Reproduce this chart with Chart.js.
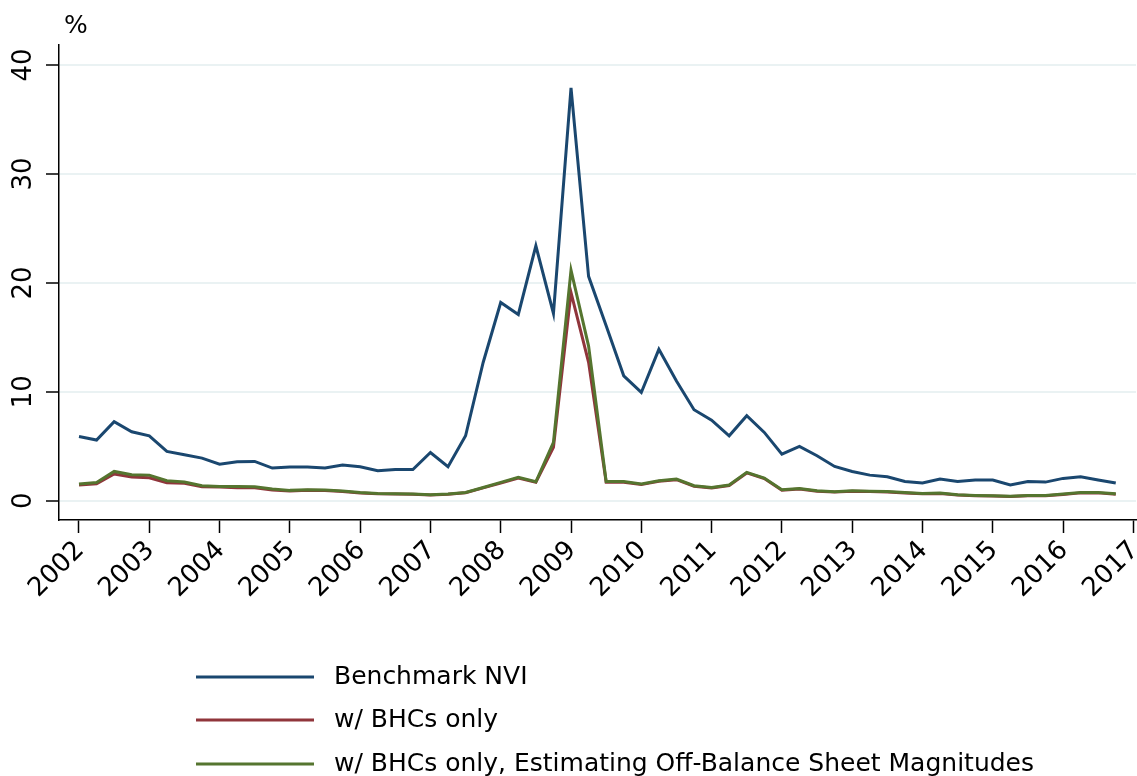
<!DOCTYPE html>
<html>
<head>
<meta charset="utf-8">
<script src="https://cdn.jsdelivr.net/npm/chart.js@4"></script>
<style>
  body { margin: 0; background: #fff; }
  #wrap { position: relative; width: 1137px; height: 776px; }
</style>
</head>
<body>
<div id="wrap"><canvas id="myChart" width="1137" height="776"></canvas></div>
<script>
// quarterly data, 2002q1 .. 2016q4
const years = [2002, 2003, 2004, 2005, 2006, 2007, 2008, 2009, 2010, 2011, 2012, 2013, 2014, 2015, 2016];
const xTicks = [2002, 2003, 2004, 2005, 2006, 2007, 2008, 2009, 2010, 2011, 2012, 2013, 2014, 2015, 2016, 2017];
const yTicks = [0, 10, 20, 30, 40];

const seriesNames = [
  "Benchmark NVI",
  "w/ BHCs only",
  "w/ BHCs only, Estimating Off-Balance Sheet Magnitudes",
];
const seriesColors = ["#1a476f", "#90353b", "#55752f"];

const benchmark = [
  5.9, 5.57, 7.25, 6.33,
  5.96, 4.53, 4.22, 3.91,
  3.36, 3.58, 3.61, 3.0,
  3.09, 3.09, 3.0, 3.27,
  3.12, 2.75, 2.87, 2.87,
  4.43, 3.12, 5.96, 12.69,
  18.2, 17.1, 23.4, 17.2,
  37.9, 20.6, 16.06, 11.47,
  9.94, 13.9, 11.0, 8.35,
  7.4, 5.96, 7.8, 6.27,
  4.28, 4.98, 4.13, 3.15,
  2.69, 2.35, 2.2, 1.77,
  1.62, 1.99, 1.77, 1.9,
  1.9, 1.44, 1.77, 1.71,
  2.05, 2.2, 1.9, 1.62,
];
const bhcOnly = [
  1.44, 1.55, 2.45, 2.17,
  2.1, 1.65, 1.6, 1.28,
  1.25, 1.2, 1.2, 0.98,
  0.9, 0.95, 0.93, 0.85,
  0.72, 0.64, 0.62, 0.6,
  0.53, 0.59, 0.74, 1.18,
  1.62, 2.08, 1.7, 4.9,
  19.1, 12.7, 1.7, 1.7,
  1.48, 1.78, 1.93, 1.33,
  1.18, 1.4, 2.55, 2.03,
  0.96, 1.08, 0.88, 0.8,
  0.88, 0.84, 0.8, 0.72,
  0.63, 0.66, 0.52, 0.46,
  0.43, 0.38, 0.46, 0.46,
  0.58, 0.72, 0.72, 0.6,
];
const bhcOffBalance = [
  1.53, 1.68, 2.69, 2.38,
  2.35, 1.83, 1.71, 1.38,
  1.31, 1.3, 1.28, 1.07,
  0.95, 1.0, 0.98, 0.89,
  0.76, 0.67, 0.64, 0.62,
  0.55, 0.61, 0.76, 1.22,
  1.68, 2.14, 1.74, 5.35,
  21.16, 14.2, 1.77, 1.77,
  1.53, 1.83, 1.99, 1.38,
  1.22, 1.44, 2.6, 2.08,
  1.0, 1.13, 0.92, 0.83,
  0.92, 0.88, 0.85, 0.76,
  0.67, 0.7, 0.55, 0.49,
  0.46, 0.4, 0.49, 0.49,
  0.61, 0.75, 0.76, 0.64,
];

// x position of each quarter (year + fraction)
const quarterX = [];
years.forEach((y) => {
  for (let q = 0; q < 4; q += 1) quarterX.push(y + q / 4);
});

function toPoints(vals) {
  return vals.map((v, i) => ({ x: quarterX[i], y: v }));
}

Chart.defaults.font.family = "'DejaVu Sans', sans-serif";
Chart.defaults.color = "#000";

// "%" above the y axis, rotated tick labels, stacked legend under the plot
const extras = {
  id: "extras",
  afterDraw(chart) {
    const ctx = chart.ctx;
    const xScale = chart.scales.x;
    const yScale = chart.scales.y;
    ctx.save();
    ctx.fillStyle = "#000";
    ctx.font = "25px 'DejaVu Sans'";
    ctx.textAlign = "left";
    ctx.textBaseline = "alphabetic";
    ctx.fillText("%", chart.chartArea.left + 5, 33);

    ctx.font = "26px 'DejaVu Sans'";

    // y labels, reading bottom to top
    ctx.textAlign = "center";
    ctx.textBaseline = "middle";
    yTicks.forEach((v) => {
      const py = yScale.getPixelForValue(v);
      ctx.save();
      ctx.translate(24, py);
      ctx.rotate(-Math.PI / 2);
      ctx.fillText(String(v), 0, 0);
      ctx.restore();
    });

    // year labels at 45deg, baseline end just right of / below the tick
    ctx.textAlign = "right";
    ctx.textBaseline = "alphabetic";
    xTicks.forEach((yr) => {
      const px = xScale.getPixelForValue(yr);
      ctx.save();
      ctx.translate(px + 6, chart.chartArea.bottom + 31);
      ctx.rotate(-Math.PI / 4);
      ctx.fillText(String(yr), 0, 0);
      ctx.restore();
    });

    const rows = [677, 720, 764];
    ctx.font = "25px 'DejaVu Sans'";
    ctx.textAlign = "left";
    ctx.textBaseline = "middle";
    seriesNames.forEach((name, i) => {
      ctx.strokeStyle = seriesColors[i];
      ctx.lineWidth = 3;
      ctx.beginPath();
      ctx.moveTo(196, rows[i]);
      ctx.lineTo(314, rows[i]);
      ctx.stroke();
      ctx.fillText(name, 334, rows[i]);
    });
    ctx.restore();
  },
};

const series = [benchmark, bhcOnly, bhcOffBalance];
const drawOrder = [2, 1, 0];

new Chart("myChart", {
  type: "line",
  data: {
    datasets: series.map((vals, i) => ({
      label: seriesNames[i],
      data: toPoints(vals),
      borderColor: seriesColors[i],
      borderWidth: 3,
      pointRadius: 0,
      tension: 0,
      fill: false,
      order: drawOrder[i],
    })),
  },
  options: {
    responsive: false,
    animation: false,
    layout: { padding: { left: 0, top: 45, right: 1, bottom: 0 } },
    plugins: {
      legend: { display: false },
      tooltip: { enabled: false },
    },
    scales: {
      x: {
        type: "linear",
        min: 2001.7155,
        max: 2017.038,
        afterBuildTicks: (scale) => {
          scale.ticks = xTicks.map((v) => ({ value: v }));
        },
        afterFit: (scale) => {
          scale.height = 256;
          scale.paddingLeft = 0;
          scale.paddingRight = 0;
        },
        grid: {
          drawOnChartArea: false,
          tickLength: 13,
          tickColor: "#000",
          tickWidth: 1.5,
        },
        border: { display: true, color: "#000", width: 1.5 },
        ticks: { display: false },
      },
      y: {
        min: -1.77,
        max: 41.84,
        afterBuildTicks: (scale) => {
          scale.ticks = yTicks.map((v) => ({ value: v }));
        },
        afterFit: (scale) => {
          scale.width = 59;
          scale.paddingTop = 0;
          scale.paddingBottom = 0;
        },
        grid: {
          color: "#eaf2f3",
          lineWidth: 2,
          tickLength: 13,
          tickColor: "#000",
          tickWidth: 1.5,
        },
        border: { display: true, color: "#000", width: 1.5 },
        ticks: { display: false },
      },
    },
  },
  plugins: [extras],
});
</script>
</body>
</html>
